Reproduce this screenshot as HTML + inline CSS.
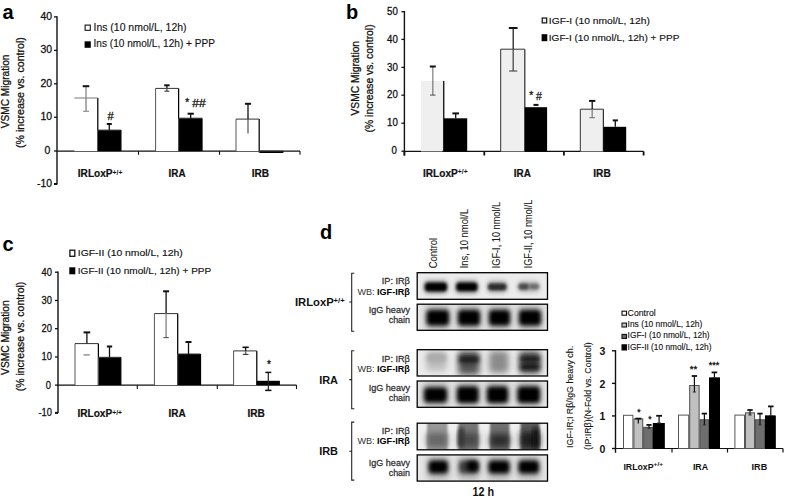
<!DOCTYPE html>
<html><head><meta charset="utf-8"><title>Figure</title>
<style>
html,body{margin:0;padding:0;background:#fff;}
body{width:785px;height:500px;position:relative;overflow:hidden;font-family:"Liberation Sans", sans-serif;}
svg text{font-family:"Liberation Sans", sans-serif;}
</style></head><body>
<svg width="785" height="500" viewBox="0 0 785 500" style="position:absolute;left:0;top:0">
<defs>
<filter id="b1" x="-30%" y="-80%" width="160%" height="260%"><feGaussianBlur stdDeviation="1.6"/></filter>
<filter id="b2" x="-30%" y="-80%" width="160%" height="260%"><feGaussianBlur stdDeviation="2.0"/></filter>
<filter id="b3" x="-30%" y="-30%" width="160%" height="160%"><feGaussianBlur stdDeviation="1.2"/></filter>
<filter id="b4" x="-50%" y="-80%" width="200%" height="260%"><feGaussianBlur stdDeviation="3"/></filter>
</defs>
<text x="2.5" y="18.7" font-size="20" font-weight="bold" fill="#000" text-anchor="start" >a</text>
<text x="346" y="18.6" font-size="20" font-weight="bold" fill="#000" text-anchor="start" >b</text>
<text x="2.6" y="251" font-size="20" font-weight="bold" fill="#000" text-anchor="start" >c</text>
<text x="320.1" y="239" font-size="20" font-weight="bold" fill="#000" text-anchor="start" >d</text>
<line x1="57.0" y1="16.2" x2="57.0" y2="184.6" stroke="#111" stroke-width="1.4"/>
<line x1="54.0" y1="16.9" x2="57.0" y2="16.9" stroke="#111" stroke-width="1.3"/>
<text x="52.0" y="19.6" font-size="10.2" font-weight="normal" fill="#111" text-anchor="end" stroke="#111" stroke-width="0.28" textLength="11.6" lengthAdjust="spacingAndGlyphs" >40</text>
<line x1="54.0" y1="50.4" x2="57.0" y2="50.4" stroke="#111" stroke-width="1.3"/>
<text x="52.0" y="53.1" font-size="10.2" font-weight="normal" fill="#111" text-anchor="end" stroke="#111" stroke-width="0.28" textLength="11.6" lengthAdjust="spacingAndGlyphs" >30</text>
<line x1="54.0" y1="83.8" x2="57.0" y2="83.8" stroke="#111" stroke-width="1.3"/>
<text x="52.0" y="86.5" font-size="10.2" font-weight="normal" fill="#111" text-anchor="end" stroke="#111" stroke-width="0.28" textLength="11.6" lengthAdjust="spacingAndGlyphs" >20</text>
<line x1="54.0" y1="117.3" x2="57.0" y2="117.3" stroke="#111" stroke-width="1.3"/>
<text x="52.0" y="120.0" font-size="10.2" font-weight="normal" fill="#111" text-anchor="end" stroke="#111" stroke-width="0.28" textLength="11.6" lengthAdjust="spacingAndGlyphs" >10</text>
<line x1="54.0" y1="151.0" x2="57.0" y2="151.0" stroke="#111" stroke-width="1.3"/>
<text x="50.4" y="153.7" font-size="10.2" font-weight="normal" fill="#111" text-anchor="end" stroke="#111" stroke-width="0.28" textLength="5.8" lengthAdjust="spacingAndGlyphs" >0</text>
<line x1="54.0" y1="184.0" x2="57.0" y2="184.0" stroke="#111" stroke-width="2"/>
<text x="52.0" y="186.7" font-size="10.2" font-weight="normal" fill="#111" text-anchor="end" stroke="#111" stroke-width="0.28" textLength="15.0" lengthAdjust="spacingAndGlyphs" >-10</text>
<line x1="57.0" y1="151.1" x2="300" y2="151.1" stroke="#111" stroke-width="1.1"/>
<line x1="138.5" y1="151.1" x2="138.5" y2="154.8" stroke="#111" stroke-width="1.1"/>
<line x1="219.5" y1="151.1" x2="219.5" y2="154.8" stroke="#111" stroke-width="1.1"/>
<line x1="300" y1="151.1" x2="300" y2="154.8" stroke="#111" stroke-width="1.1"/>
<text x="9" y="91.4" font-size="10.5" font-weight="normal" fill="#111" text-anchor="middle" transform="rotate(-90 9 91.4)" stroke="#111" stroke-width="0.28" textLength="73.8" lengthAdjust="spacingAndGlyphs">VSMC Migration</text>
<text x="24.1" y="92.6" font-size="10.5" font-weight="normal" fill="#111" text-anchor="middle" transform="rotate(-90 24.1 92.6)" stroke="#111" stroke-width="0.28" textLength="110.8" lengthAdjust="spacingAndGlyphs">(% increase vs. control)</text>
<rect x="74.4" y="98" width="23.4" height="53.1" fill="#fff"/>
<line x1="97.8" y1="98" x2="97.8" y2="151.1" stroke="#000" stroke-width="1.25"/>
<line x1="74.4" y1="98" x2="97.8" y2="98" stroke="#777" stroke-width="1"/>
<rect x="97.5" y="130.1" width="23.4" height="21.0" fill="#000"/>
<line x1="97.5" y1="130.1" x2="97.5" y2="151.1" stroke="#555" stroke-width="1"/>
<line x1="120.9" y1="130.1" x2="120.9" y2="151.1" stroke="#000" stroke-width="1.25"/>
<line x1="97.5" y1="130.1" x2="120.9" y2="130.1" stroke="#333" stroke-width="1"/>
<line x1="86" y1="86.2" x2="86" y2="98" stroke="#888" stroke-width="1.3"/>
<line x1="86" y1="98" x2="86" y2="111.3" stroke="#888" stroke-width="1.4"/>
<line x1="83.0" y1="111.3" x2="89.0" y2="111.3" stroke="#888" stroke-width="1.1"/>
<line x1="82.7" y1="86.2" x2="89.3" y2="86.2" stroke="#111" stroke-width="2"/>
<line x1="106.8" y1="124" x2="111.8" y2="124" stroke="#111" stroke-width="2"/>
<line x1="109.3" y1="124" x2="109.3" y2="130.1" stroke="#111" stroke-width="1.3"/>
<rect x="155.6" y="88.4" width="23.0" height="62.7" fill="#fff"/>
<line x1="155.6" y1="88.4" x2="155.6" y2="151.1" stroke="#555" stroke-width="1"/>
<line x1="178.6" y1="88.4" x2="178.6" y2="151.1" stroke="#000" stroke-width="1.25"/>
<line x1="155.6" y1="88.4" x2="178.6" y2="88.4" stroke="#333" stroke-width="1"/>
<rect x="178.6" y="118.2" width="23.4" height="32.9" fill="#000"/>
<line x1="178.6" y1="118.2" x2="178.6" y2="151.1" stroke="#555" stroke-width="1"/>
<line x1="202" y1="118.2" x2="202" y2="151.1" stroke="#000" stroke-width="1.25"/>
<line x1="178.6" y1="118.2" x2="202" y2="118.2" stroke="#333" stroke-width="1"/>
<line x1="166.9" y1="85.3" x2="166.9" y2="88.4" stroke="#111" stroke-width="1.3"/>
<line x1="166.9" y1="88.4" x2="166.9" y2="91.2" stroke="#666" stroke-width="1.4"/>
<line x1="164.5" y1="91.2" x2="169.3" y2="91.2" stroke="#333" stroke-width="1.1"/>
<line x1="164.2" y1="85.3" x2="169.6" y2="85.3" stroke="#111" stroke-width="2"/>
<line x1="187.55" y1="113.7" x2="193.85" y2="113.7" stroke="#111" stroke-width="2"/>
<line x1="190.7" y1="113.7" x2="190.7" y2="118.2" stroke="#111" stroke-width="1.3"/>
<rect x="236" y="119.1" width="23.2" height="32.0" fill="#fff"/>
<line x1="236" y1="119.1" x2="236" y2="151.1" stroke="#555" stroke-width="1"/>
<line x1="259.2" y1="119.1" x2="259.2" y2="151.1" stroke="#000" stroke-width="1.25"/>
<line x1="236" y1="119.1" x2="259.2" y2="119.1" stroke="#333" stroke-width="1"/>
<line x1="248.0" y1="103.8" x2="248.0" y2="119.1" stroke="#111" stroke-width="1.3"/>
<line x1="248.0" y1="119.1" x2="248.0" y2="133.6" stroke="#444" stroke-width="1.1"/>
<line x1="244.9" y1="103.8" x2="251.1" y2="103.8" stroke="#111" stroke-width="2"/>
<rect x="259.2" y="151.1" width="23.6" height="1.9" fill="#000"/>
<line x1="259.2" y1="151.1" x2="259.2" y2="153" stroke="#555" stroke-width="1"/>
<line x1="282.8" y1="151.1" x2="282.8" y2="153" stroke="#000" stroke-width="1.25"/>
<line x1="259.2" y1="151.1" x2="282.8" y2="151.1" stroke="#333" stroke-width="1"/>
<text x="107.6" y="119.8" font-size="11" font-weight="normal" fill="#111" text-anchor="start" stroke="#111" stroke-width="0.28" >#</text>
<text x="185.2" y="105.5" font-size="10" font-weight="normal" fill="#111" text-anchor="start" stroke="#111" stroke-width="0.28" >*</text>
<text x="192.2" y="107" font-size="11" font-weight="normal" fill="#111" text-anchor="start" stroke="#111" stroke-width="0.28" textLength="13.4" lengthAdjust="spacingAndGlyphs" >##</text>
<text x="77.8" y="176.9" font-size="10.5" font-weight="bold" fill="#111" text-anchor="start" stroke="#111" stroke-width="0.2" textLength="34.8" lengthAdjust="spacingAndGlyphs" >IRLoxP</text>
<text x="112.6" y="174.5" font-size="6.5" font-weight="bold" fill="#111" text-anchor="start" textLength="9.8" lengthAdjust="spacingAndGlyphs" >+/+</text>
<text x="168.6" y="176.9" font-size="10.5" font-weight="bold" fill="#111" text-anchor="start" stroke="#111" stroke-width="0.2" textLength="17" lengthAdjust="spacingAndGlyphs" >IRA</text>
<text x="251.7" y="176.9" font-size="10.5" font-weight="bold" fill="#111" text-anchor="start" stroke="#111" stroke-width="0.2" textLength="17.4" lengthAdjust="spacingAndGlyphs" >IRB</text>
<rect x="85.1" y="25.1" width="5.2" height="5.2" fill="#fff" stroke="#111" stroke-width="1.1"/>
<text x="93.5" y="30.7" font-size="10.2" font-weight="normal" fill="#111" text-anchor="start" stroke="#111" stroke-width="0.12" textLength="93" lengthAdjust="spacingAndGlyphs" >Ins (10 nmol/L, 12h)</text>
<rect x="84.6" y="41.3" width="6.2" height="6.5" fill="#000"/>
<text x="93.5" y="47.4" font-size="10.2" font-weight="normal" fill="#111" text-anchor="start" stroke="#111" stroke-width="0.12" textLength="121.5" lengthAdjust="spacingAndGlyphs" >Ins (10 nmol/L, 12h) + PPP</text>
<line x1="404.4" y1="11.0" x2="404.4" y2="155.5" stroke="#111" stroke-width="1.4"/>
<line x1="401.4" y1="11.7" x2="404.4" y2="11.7" stroke="#111" stroke-width="1.3"/>
<text x="397.8" y="14.9" font-size="10.2" font-weight="normal" fill="#111" text-anchor="end" stroke="#111" stroke-width="0.28" textLength="10.8" lengthAdjust="spacingAndGlyphs" >50</text>
<line x1="401.4" y1="39.4" x2="404.4" y2="39.4" stroke="#111" stroke-width="1.3"/>
<text x="397.8" y="42.6" font-size="10.2" font-weight="normal" fill="#111" text-anchor="end" stroke="#111" stroke-width="0.28" textLength="10.8" lengthAdjust="spacingAndGlyphs" >40</text>
<line x1="401.4" y1="67.4" x2="404.4" y2="67.4" stroke="#111" stroke-width="1.3"/>
<text x="397.8" y="70.6" font-size="10.2" font-weight="normal" fill="#111" text-anchor="end" stroke="#111" stroke-width="0.28" textLength="10.8" lengthAdjust="spacingAndGlyphs" >30</text>
<line x1="401.4" y1="95.2" x2="404.4" y2="95.2" stroke="#111" stroke-width="1.3"/>
<text x="397.8" y="98.4" font-size="10.2" font-weight="normal" fill="#111" text-anchor="end" stroke="#111" stroke-width="0.28" textLength="10.8" lengthAdjust="spacingAndGlyphs" >20</text>
<line x1="401.4" y1="123.2" x2="404.4" y2="123.2" stroke="#111" stroke-width="1.3"/>
<text x="397.8" y="126.4" font-size="10.2" font-weight="normal" fill="#111" text-anchor="end" stroke="#111" stroke-width="0.28" textLength="10.8" lengthAdjust="spacingAndGlyphs" >10</text>
<line x1="401.4" y1="151.2" x2="404.4" y2="151.2" stroke="#111" stroke-width="1.3"/>
<text x="396.8" y="154.4" font-size="10.2" font-weight="normal" fill="#111" text-anchor="end" stroke="#111" stroke-width="0.28" textLength="5.4" lengthAdjust="spacingAndGlyphs" >0</text>
<line x1="404.4" y1="151.4" x2="643.6" y2="151.4" stroke="#111" stroke-width="1.1"/>
<line x1="404.4" y1="151.4" x2="404.4" y2="155.5" stroke="#111" stroke-width="1.8"/>
<line x1="484.3" y1="151.4" x2="484.3" y2="155.5" stroke="#111" stroke-width="1.8"/>
<line x1="563.9" y1="151.4" x2="563.9" y2="155.5" stroke="#111" stroke-width="1.8"/>
<line x1="643.6" y1="151.4" x2="643.6" y2="155.5" stroke="#111" stroke-width="1.8"/>
<text x="359.5" y="78.2" font-size="10.5" font-weight="normal" fill="#111" text-anchor="middle" transform="rotate(-90 359.5 78.2)" stroke="#111" stroke-width="0.28" textLength="74.5" lengthAdjust="spacingAndGlyphs">VSMC Migration</text>
<text x="373.2" y="78.4" font-size="10.5" font-weight="normal" fill="#111" text-anchor="middle" transform="rotate(-90 373.2 78.4)" stroke="#111" stroke-width="0.28" textLength="108" lengthAdjust="spacingAndGlyphs">(% increase vs. control)</text>
<rect x="421" y="80.9" width="21.5" height="70.5" fill="#efefef"/>
<line x1="443.7" y1="80.9" x2="443.7" y2="151.4" stroke="#222" stroke-width="1.5"/>
<rect x="444" y="118.3" width="23.2" height="33.1" fill="#000"/>
<line x1="432.8" y1="66.5" x2="432.8" y2="80.9" stroke="#888" stroke-width="1.3"/>
<line x1="432.8" y1="80.9" x2="432.8" y2="95.1" stroke="#888" stroke-width="1.4"/>
<line x1="430.1" y1="95.1" x2="435.5" y2="95.1" stroke="#555" stroke-width="1.1"/>
<line x1="429.8" y1="66.5" x2="435.8" y2="66.5" stroke="#111" stroke-width="2"/>
<line x1="452.4" y1="113.4" x2="459.0" y2="113.4" stroke="#111" stroke-width="2"/>
<line x1="455.7" y1="113.4" x2="455.7" y2="118.3" stroke="#111" stroke-width="1.3"/>
<rect x="500.7" y="49.2" width="24.1" height="102.2" fill="#efefef"/>
<line x1="500.7" y1="49.2" x2="500.7" y2="151.4" stroke="#333" stroke-width="1"/>
<line x1="524.8" y1="49.2" x2="524.8" y2="151.4" stroke="#333" stroke-width="1.25"/>
<line x1="500.7" y1="49.2" x2="524.8" y2="49.2" stroke="#333" stroke-width="1"/>
<rect x="524.8" y="107.2" width="22.3" height="44.2" fill="#000"/>
<line x1="513.2" y1="28" x2="513.2" y2="49.2" stroke="#222" stroke-width="1.3"/>
<line x1="513.2" y1="49.2" x2="513.2" y2="71" stroke="#555" stroke-width="1.4"/>
<line x1="509.15" y1="71" x2="517.25" y2="71" stroke="#444" stroke-width="1.1"/>
<line x1="508.85" y1="28" x2="517.55" y2="28" stroke="#111" stroke-width="2"/>
<line x1="533.5" y1="104.9" x2="538.5" y2="104.9" stroke="#111" stroke-width="2"/>
<rect x="580.3" y="109.2" width="23.1" height="42.2" fill="#efefef"/>
<line x1="580.3" y1="109.2" x2="580.3" y2="151.4" stroke="#333" stroke-width="1"/>
<line x1="603.4" y1="109.2" x2="603.4" y2="151.4" stroke="#333" stroke-width="1.25"/>
<line x1="580.3" y1="109.2" x2="603.4" y2="109.2" stroke="#333" stroke-width="1"/>
<rect x="603.4" y="126.8" width="22.8" height="24.6" fill="#000"/>
<line x1="592.2" y1="100.9" x2="592.2" y2="109.2" stroke="#111" stroke-width="1.3"/>
<line x1="592.2" y1="109.2" x2="592.2" y2="117.7" stroke="#888" stroke-width="1.4"/>
<line x1="589.35" y1="117.7" x2="595.05" y2="117.7" stroke="#777" stroke-width="1.1"/>
<line x1="589.05" y1="100.9" x2="595.35" y2="100.9" stroke="#111" stroke-width="2"/>
<line x1="612.7" y1="120.4" x2="617.9" y2="120.4" stroke="#111" stroke-width="2"/>
<line x1="615.3" y1="120.4" x2="615.3" y2="126.8" stroke="#111" stroke-width="1.3"/>
<text x="529.2" y="98.5" font-size="10" font-weight="normal" fill="#111" text-anchor="start" stroke="#111" stroke-width="0.28" >*</text>
<text x="535.9" y="99.6" font-size="10.5" font-weight="normal" fill="#111" text-anchor="start" stroke="#111" stroke-width="0.28" >#</text>
<text x="423" y="177.1" font-size="10.0" font-weight="bold" fill="#111" text-anchor="start" stroke="#111" stroke-width="0.2" textLength="34.8" lengthAdjust="spacingAndGlyphs" >IRLoxP</text>
<text x="457.8" y="174.2" font-size="6.5" font-weight="bold" fill="#111" text-anchor="start" textLength="9.8" lengthAdjust="spacingAndGlyphs" >+/+</text>
<text x="513.8" y="177.1" font-size="10.0" font-weight="bold" fill="#111" text-anchor="start" stroke="#111" stroke-width="0.2" textLength="17" lengthAdjust="spacingAndGlyphs" >IRA</text>
<text x="593.3" y="177.1" font-size="10.0" font-weight="bold" fill="#111" text-anchor="start" stroke="#111" stroke-width="0.2" textLength="17.4" lengthAdjust="spacingAndGlyphs" >IRB</text>
<rect x="542.2" y="18.0" width="4.5" height="4.9" fill="#eee" stroke="#111" stroke-width="1.2"/>
<text x="548.8" y="23.8" font-size="9.7" font-weight="normal" fill="#111" text-anchor="start" stroke="#111" stroke-width="0.15" textLength="101" lengthAdjust="spacingAndGlyphs" >IGF-I (10 nmol/L, 12h)</text>
<rect x="541.6" y="34.2" width="5.7" height="7.0" fill="#000"/>
<text x="548.8" y="41.2" font-size="9.7" font-weight="normal" fill="#111" text-anchor="start" stroke="#111" stroke-width="0.15" textLength="130.6" lengthAdjust="spacingAndGlyphs" >IGF-I (10 nmol/L, 12h) + PPP</text>
<line x1="58.0" y1="271.5" x2="58.0" y2="413.3" stroke="#111" stroke-width="1.4"/>
<line x1="55.0" y1="272.2" x2="58.0" y2="272.2" stroke="#111" stroke-width="1.3"/>
<text x="52.0" y="275.6" font-size="10.2" font-weight="normal" fill="#111" text-anchor="end" stroke="#111" stroke-width="0.28" textLength="10.4" lengthAdjust="spacingAndGlyphs" >40</text>
<line x1="55.0" y1="300.5" x2="58.0" y2="300.5" stroke="#111" stroke-width="1.3"/>
<text x="52.0" y="303.9" font-size="10.2" font-weight="normal" fill="#111" text-anchor="end" stroke="#111" stroke-width="0.28" textLength="10.4" lengthAdjust="spacingAndGlyphs" >30</text>
<line x1="55.0" y1="328.7" x2="58.0" y2="328.7" stroke="#111" stroke-width="1.3"/>
<text x="52.0" y="332.1" font-size="10.2" font-weight="normal" fill="#111" text-anchor="end" stroke="#111" stroke-width="0.28" textLength="10.4" lengthAdjust="spacingAndGlyphs" >20</text>
<line x1="55.0" y1="357.0" x2="58.0" y2="357.0" stroke="#111" stroke-width="1.3"/>
<text x="52.0" y="360.4" font-size="10.2" font-weight="normal" fill="#111" text-anchor="end" stroke="#111" stroke-width="0.28" textLength="10.4" lengthAdjust="spacingAndGlyphs" >10</text>
<line x1="55.0" y1="385.1" x2="58.0" y2="385.1" stroke="#111" stroke-width="1.3"/>
<text x="51.0" y="388.5" font-size="10.2" font-weight="normal" fill="#111" text-anchor="end" stroke="#111" stroke-width="0.28" textLength="5.2" lengthAdjust="spacingAndGlyphs" >0</text>
<line x1="55.0" y1="412.9" x2="58.0" y2="412.9" stroke="#111" stroke-width="2"/>
<text x="52.0" y="416.3" font-size="10.2" font-weight="normal" fill="#111" text-anchor="end" stroke="#111" stroke-width="0.28" textLength="13.5" lengthAdjust="spacingAndGlyphs" >-10</text>
<line x1="58.0" y1="385.1" x2="296.5" y2="385.1" stroke="#111" stroke-width="1.1"/>
<line x1="137.3" y1="385.1" x2="137.3" y2="389" stroke="#111" stroke-width="1.1"/>
<line x1="217.3" y1="385.1" x2="217.3" y2="389" stroke="#111" stroke-width="1.1"/>
<line x1="296.5" y1="385.1" x2="296.5" y2="389" stroke="#111" stroke-width="1.1"/>
<text x="9.3" y="337.6" font-size="10.5" font-weight="normal" fill="#111" text-anchor="middle" transform="rotate(-90 9.3 337.6)" stroke="#111" stroke-width="0.28" textLength="74.7" lengthAdjust="spacingAndGlyphs">VSMC Migration</text>
<text x="24.3" y="336.5" font-size="10.5" font-weight="normal" fill="#111" text-anchor="middle" transform="rotate(-90 24.3 336.5)" stroke="#111" stroke-width="0.28" textLength="109.6" lengthAdjust="spacingAndGlyphs">(% increase vs. control)</text>
<rect x="75" y="343.6" width="23.4" height="41.5" fill="#fff"/>
<line x1="75" y1="343.6" x2="75" y2="385.1" stroke="#555" stroke-width="1"/>
<line x1="98.4" y1="343.6" x2="98.4" y2="385.1" stroke="#000" stroke-width="1.25"/>
<line x1="75" y1="343.6" x2="98.4" y2="343.6" stroke="#333" stroke-width="1"/>
<rect x="98.4" y="357.3" width="22.4" height="27.8" fill="#000"/>
<line x1="98.4" y1="357.3" x2="98.4" y2="385.1" stroke="#555" stroke-width="1"/>
<line x1="120.8" y1="357.3" x2="120.8" y2="385.1" stroke="#000" stroke-width="1.25"/>
<line x1="98.4" y1="357.3" x2="120.8" y2="357.3" stroke="#333" stroke-width="1"/>
<line x1="83.55" y1="332.4" x2="90.25" y2="332.4" stroke="#111" stroke-width="2"/>
<line x1="86.9" y1="332.4" x2="86.9" y2="343.6" stroke="#111" stroke-width="1.3"/>
<line x1="83.5" y1="354.9" x2="89.8" y2="354.9" stroke="#777" stroke-width="1.2"/>
<line x1="106.85" y1="346.5" x2="112.15" y2="346.5" stroke="#111" stroke-width="2"/>
<line x1="109.5" y1="346.5" x2="109.5" y2="357.3" stroke="#111" stroke-width="1.3"/>
<rect x="154.4" y="313.6" width="23.3" height="71.5" fill="#fff"/>
<line x1="154.4" y1="313.6" x2="154.4" y2="385.1" stroke="#555" stroke-width="1"/>
<line x1="177.7" y1="313.6" x2="177.7" y2="385.1" stroke="#000" stroke-width="1.25"/>
<line x1="154.4" y1="313.6" x2="177.7" y2="313.6" stroke="#333" stroke-width="1"/>
<rect x="177.7" y="354" width="22.8" height="31.1" fill="#000"/>
<line x1="177.7" y1="354" x2="177.7" y2="385.1" stroke="#555" stroke-width="1"/>
<line x1="200.5" y1="354" x2="200.5" y2="385.1" stroke="#000" stroke-width="1.25"/>
<line x1="177.7" y1="354" x2="200.5" y2="354" stroke="#333" stroke-width="1"/>
<line x1="166.1" y1="291.3" x2="166.1" y2="313.6" stroke="#111" stroke-width="1.3"/>
<line x1="166.1" y1="313.6" x2="166.1" y2="337.6" stroke="#999" stroke-width="1.6"/>
<line x1="163.4" y1="337.6" x2="168.8" y2="337.6" stroke="#555" stroke-width="1.1"/>
<line x1="163.1" y1="291.3" x2="169.1" y2="291.3" stroke="#111" stroke-width="2"/>
<line x1="185.5" y1="342" x2="191.5" y2="342" stroke="#111" stroke-width="2"/>
<line x1="188.5" y1="342" x2="188.5" y2="354" stroke="#111" stroke-width="1.3"/>
<rect x="233.6" y="350.9" width="23.2" height="34.2" fill="#fff"/>
<line x1="233.6" y1="350.9" x2="233.6" y2="385.1" stroke="#555" stroke-width="1"/>
<line x1="256.8" y1="350.9" x2="256.8" y2="385.1" stroke="#000" stroke-width="1.25"/>
<line x1="233.6" y1="350.9" x2="256.8" y2="350.9" stroke="#333" stroke-width="1"/>
<line x1="245.6" y1="347.3" x2="245.6" y2="350.9" stroke="#111" stroke-width="1.3"/>
<line x1="245.6" y1="350.9" x2="245.6" y2="354.4" stroke="#666" stroke-width="1.4"/>
<line x1="242.75" y1="354.4" x2="248.45" y2="354.4" stroke="#333" stroke-width="1.1"/>
<line x1="242.45" y1="347.3" x2="248.75" y2="347.3" stroke="#111" stroke-width="1.6"/>
<rect x="256.8" y="380.8" width="23.1" height="4.3" fill="#000"/>
<line x1="268.3" y1="372.4" x2="268.3" y2="390.4" stroke="#222" stroke-width="1.2"/>
<line x1="265.3" y1="390.4" x2="271.3" y2="390.4" stroke="#222" stroke-width="1"/>
<line x1="265.3" y1="372.4" x2="271.3" y2="372.4" stroke="#111" stroke-width="1.5"/>
<line x1="265.3" y1="390.4" x2="271.3" y2="390.4" stroke="#111" stroke-width="1.5"/>
<text x="267.1" y="367.6" font-size="10" font-weight="normal" fill="#111" text-anchor="start" stroke="#111" stroke-width="0.28" >*</text>
<text x="77.4" y="417" font-size="10.5" font-weight="bold" fill="#111" text-anchor="start" stroke="#111" stroke-width="0.2" textLength="34.8" lengthAdjust="spacingAndGlyphs" >IRLoxP</text>
<text x="112.2" y="414.6" font-size="6.5" font-weight="bold" fill="#111" text-anchor="start" textLength="9.8" lengthAdjust="spacingAndGlyphs" >+/+</text>
<text x="168.6" y="417" font-size="10.5" font-weight="bold" fill="#111" text-anchor="start" stroke="#111" stroke-width="0.2" textLength="17.2" lengthAdjust="spacingAndGlyphs" >IRA</text>
<text x="247.5" y="417" font-size="10.5" font-weight="bold" fill="#111" text-anchor="start" stroke="#111" stroke-width="0.2" textLength="17.4" lengthAdjust="spacingAndGlyphs" >IRB</text>
<rect x="69.9" y="250.2" width="4.9" height="6.1" fill="#fff" stroke="#111" stroke-width="1.3"/>
<text x="77.8" y="255.9" font-size="9.6" font-weight="normal" fill="#111" text-anchor="start" stroke="#111" stroke-width="0.15" textLength="105" lengthAdjust="spacingAndGlyphs" >IGF-II (10 nmol/L, 12h)</text>
<rect x="69.3" y="267.3" width="6.0" height="7.0" fill="#000"/>
<text x="77.8" y="274.0" font-size="9.6" font-weight="normal" fill="#111" text-anchor="start" stroke="#111" stroke-width="0.15" textLength="133.5" lengthAdjust="spacingAndGlyphs" >IGF-II (10 nmol/L, 12h) + PPP</text>
<text x="437.0" y="268.3" font-size="10.2" font-weight="normal" fill="#1a1a1a" text-anchor="start" transform="rotate(-90 437.0 268.3)" stroke="#1a1a1a" stroke-width="0.08" textLength="30.5" lengthAdjust="spacingAndGlyphs">Control</text>
<text x="468.3" y="268.3" font-size="10.2" font-weight="normal" fill="#1a1a1a" text-anchor="start" transform="rotate(-90 468.3 268.3)" stroke="#1a1a1a" stroke-width="0.08" textLength="59.2" lengthAdjust="spacingAndGlyphs">Ins, 10 nmol/L</text>
<text x="500.3" y="268.3" font-size="10.2" font-weight="normal" fill="#1a1a1a" text-anchor="start" transform="rotate(-90 500.3 268.3)" stroke="#1a1a1a" stroke-width="0.08" textLength="66.5" lengthAdjust="spacingAndGlyphs">IGF-I, 10 nmol/L</text>
<text x="532.5" y="268.3" font-size="10.2" font-weight="normal" fill="#1a1a1a" text-anchor="start" transform="rotate(-90 532.5 268.3)" stroke="#1a1a1a" stroke-width="0.08" textLength="68.7" lengthAdjust="spacingAndGlyphs">IGF-II, 10 nmol/L</text>
<rect x="417.2" y="272.7" width="130.3" height="26.6" fill="#ececec"/>
<clipPath id="cp1"><rect x="417.6" y="273.1" width="129.5" height="25.8"/></clipPath><g clip-path="url(#cp1)">
<rect x="423.5" y="280" width="24.5" height="14" rx="5" fill="#666" opacity="0.55" filter="url(#b2)"/>
<rect x="424.8" y="282.4" width="22.2" height="9.0" rx="3.5" fill="#000" opacity="1" filter="url(#b1)"/>
<rect x="455" y="280" width="23.5" height="14" rx="5" fill="#666" opacity="0.55" filter="url(#b2)"/>
<rect x="456.2" y="282.4" width="21.3" height="8.8" rx="3.5" fill="#000" opacity="1" filter="url(#b1)"/>
<rect x="487" y="280" width="20.5" height="13.5" rx="5" fill="#888" opacity="0.5" filter="url(#b2)"/>
<rect x="487.8" y="283.2" width="18.9" height="7.2" rx="3.5" fill="#2a2a2a" opacity="1" filter="url(#b1)"/>
<rect x="517.5" y="280.5" width="22.5" height="12.5" rx="5" fill="#999" opacity="0.5" filter="url(#b2)"/>
<rect x="518.3" y="283.2" width="11.2" height="6.8" rx="3.5" fill="#4a4a4a" opacity="1" filter="url(#b1)"/>
<rect x="528.5" y="283.6" width="10.7" height="6.0" rx="3.5" fill="#6a6a6a" opacity="1" filter="url(#b1)"/>
</g>
<rect x="417.2" y="272.7" width="130.3" height="26.6" fill="none" stroke="#000" stroke-width="1.3"/>
<rect x="417.2" y="304.2" width="130.3" height="26.1" fill="#e6e6e6"/>
<clipPath id="cp2"><rect x="417.6" y="304.6" width="129.5" height="25.3"/></clipPath><g clip-path="url(#cp2)">
<rect x="425" y="305" width="25.5" height="25" rx="5" fill="#888" opacity="0.55" filter="url(#b4)"/>
<rect x="426.5" y="310" width="22.5" height="15.5" rx="4" fill="#000" opacity="1" filter="url(#b2)"/>
<rect x="456.5" y="305" width="25.0" height="25" rx="5" fill="#888" opacity="0.55" filter="url(#b4)"/>
<rect x="458.0" y="310" width="22.0" height="15.5" rx="4" fill="#000" opacity="1" filter="url(#b2)"/>
<rect x="487.5" y="305" width="24.0" height="25" rx="5" fill="#888" opacity="0.55" filter="url(#b4)"/>
<rect x="489.0" y="310" width="21.0" height="15.5" rx="4" fill="#000" opacity="1" filter="url(#b2)"/>
<rect x="517.5" y="305" width="25.0" height="25" rx="5" fill="#888" opacity="0.55" filter="url(#b4)"/>
<rect x="519.0" y="310" width="22.0" height="15.5" rx="4" fill="#000" opacity="1" filter="url(#b2)"/>
</g>
<rect x="417.2" y="304.2" width="130.3" height="26.1" fill="none" stroke="#000" stroke-width="1.3"/>
<rect x="417.2" y="349.7" width="130.3" height="26.3" fill="#ececec"/>
<clipPath id="cp3"><rect x="417.6" y="350.1" width="129.5" height="25.5"/></clipPath><g clip-path="url(#cp3)">
<rect x="426" y="352" width="21" height="19" rx="4" fill="#bdbdbd" opacity="1" filter="url(#b4)"/>
<rect x="427" y="353" width="19" height="9" rx="4" fill="#aaa" opacity="1" filter="url(#b2)"/>
<rect x="458" y="351" width="21.5" height="24" rx="4" fill="#555" opacity="1" filter="url(#b4)"/>
<rect x="459" y="356" width="20" height="7" rx="3" fill="#1a1a1a" opacity="1" filter="url(#b2)"/>
<rect x="489" y="351" width="19.5" height="22" rx="4" fill="#8a8a8a" opacity="1" filter="url(#b4)"/>
<rect x="519" y="351" width="21.5" height="23" rx="4" fill="#555" opacity="1" filter="url(#b4)"/>
<rect x="520" y="356" width="20" height="6" rx="3" fill="#1a1a1a" opacity="1" filter="url(#b2)"/>
<rect x="520" y="364" width="20" height="5.5" rx="3" fill="#111" opacity="1" filter="url(#b2)"/>
</g>
<rect x="417.2" y="349.7" width="130.3" height="26.3" fill="none" stroke="#000" stroke-width="1.3"/>
<rect x="417.2" y="381.0" width="130.3" height="26.3" fill="#e6e6e6"/>
<clipPath id="cp4"><rect x="417.6" y="381.4" width="129.5" height="25.5"/></clipPath><g clip-path="url(#cp4)">
<rect x="422.5" y="382" width="26.0" height="25" rx="5" fill="#888" opacity="0.55" filter="url(#b4)"/>
<rect x="424.0" y="387.5" width="23.0" height="15.0" rx="4" fill="#000" opacity="1" filter="url(#b2)"/>
<rect x="455.5" y="382" width="24.5" height="25" rx="5" fill="#888" opacity="0.55" filter="url(#b4)"/>
<rect x="457.0" y="386.5" width="21.5" height="16.5" rx="4" fill="#000" opacity="1" filter="url(#b2)"/>
<rect x="485.5" y="382" width="24.0" height="25" rx="5" fill="#888" opacity="0.55" filter="url(#b4)"/>
<rect x="487.0" y="386.5" width="21.0" height="16.5" rx="4" fill="#000" opacity="1" filter="url(#b2)"/>
<rect x="516" y="382" width="25.5" height="25" rx="5" fill="#888" opacity="0.55" filter="url(#b4)"/>
<rect x="517.5" y="386.5" width="22.5" height="16.5" rx="4" fill="#000" opacity="1" filter="url(#b2)"/>
</g>
<rect x="417.2" y="381.0" width="130.3" height="26.3" fill="none" stroke="#000" stroke-width="1.3"/>
<rect x="417.2" y="423.2" width="130.3" height="26.6" fill="#f0f0f0"/>
<clipPath id="cp5"><rect x="417.6" y="423.6" width="129.5" height="25.8"/></clipPath><g clip-path="url(#cp5)">
<rect x="427" y="418" width="20.5" height="37" rx="1" fill="#999" opacity="1" filter="url(#b3)"/>
<rect x="427" y="433" width="20.5" height="14" rx="1" fill="#666" opacity="1" filter="url(#b4)"/>
<rect x="458.5" y="418" width="20.0" height="37" rx="1" fill="#777" opacity="1" filter="url(#b3)"/>
<rect x="458.5" y="433" width="20.0" height="14" rx="1" fill="#4a4a4a" opacity="1" filter="url(#b4)"/>
<rect x="458.5" y="428" width="5.5" height="19" rx="1" fill="#333" opacity="1" filter="url(#b2)"/>
<rect x="490" y="418" width="19.5" height="37" rx="1" fill="#707070" opacity="1" filter="url(#b3)"/>
<rect x="490" y="434" width="19.5" height="13" rx="1" fill="#2a2a2a" opacity="1" filter="url(#b4)"/>
<rect x="520.5" y="418" width="19.0" height="37" rx="1" fill="#5a5a5a" opacity="1" filter="url(#b3)"/>
<rect x="520.5" y="432" width="19.0" height="16" rx="1" fill="#1a1a1a" opacity="1" filter="url(#b4)"/>
<rect x="533" y="428" width="5.5" height="20" rx="1" fill="#111" opacity="1" filter="url(#b2)"/>
</g>
<rect x="417.2" y="423.2" width="130.3" height="26.6" fill="none" stroke="#000" stroke-width="1.3"/>
<rect x="417.2" y="454.9" width="130.3" height="26.2" fill="#e6e6e6"/>
<clipPath id="cp6"><rect x="417.6" y="455.3" width="129.5" height="25.4"/></clipPath><g clip-path="url(#cp6)">
<rect x="427" y="456" width="22.5" height="24" rx="5" fill="#888" opacity="0.55" filter="url(#b4)"/>
<rect x="428.5" y="460.5" width="19.5" height="13.0" rx="4" fill="#000" opacity="1" filter="url(#b2)"/>
<rect x="457.5" y="456" width="22.5" height="24" rx="5" fill="#888" opacity="0.55" filter="url(#b4)"/>
<rect x="459.0" y="460.5" width="19.5" height="13.0" rx="4" fill="#3a3a3a" opacity="1" filter="url(#b2)"/>
<rect x="487" y="456" width="24" height="24" rx="5" fill="#888" opacity="0.55" filter="url(#b4)"/>
<rect x="488.5" y="460.5" width="21.0" height="13.0" rx="4" fill="#000" opacity="1" filter="url(#b2)"/>
<rect x="517" y="456" width="23.5" height="24" rx="5" fill="#888" opacity="0.55" filter="url(#b4)"/>
<rect x="518.5" y="460.5" width="20.5" height="13.0" rx="4" fill="#000" opacity="1" filter="url(#b2)"/>
<rect x="467" y="461" width="11" height="10" rx="3" fill="#000" opacity="1" filter="url(#b2)"/>
</g>
<rect x="417.2" y="454.9" width="130.3" height="26.2" fill="none" stroke="#000" stroke-width="1.3"/>
<text x="409.8" y="283.7" font-size="9" font-weight="normal" fill="#333" text-anchor="end" stroke="#333" stroke-width="0.28" textLength="28" lengthAdjust="spacingAndGlyphs" >IP: IR&#946;</text>
<text x="409.8" y="294.6" font-size="9" fill="#333" text-anchor="end" textLength="52.4" lengthAdjust="spacingAndGlyphs">WB: <tspan font-weight="bold" fill="#000">IGF-IR&#946;</tspan></text>
<text x="410" y="312.8" font-size="9" font-weight="normal" fill="#333" text-anchor="end" stroke="#333" stroke-width="0.28" textLength="41.3" lengthAdjust="spacingAndGlyphs" >IgG heavy</text>
<text x="410" y="323.3" font-size="9" font-weight="normal" fill="#333" text-anchor="end" stroke="#333" stroke-width="0.28" textLength="21.3" lengthAdjust="spacingAndGlyphs" >chain</text>
<text x="409.8" y="361.5" font-size="9" font-weight="normal" fill="#333" text-anchor="end" stroke="#333" stroke-width="0.28" textLength="28" lengthAdjust="spacingAndGlyphs" >IP: IR&#946;</text>
<text x="409.8" y="372.3" font-size="9" fill="#333" text-anchor="end" textLength="52.4" lengthAdjust="spacingAndGlyphs">WB: <tspan font-weight="bold" fill="#000">IGF-IR&#946;</tspan></text>
<text x="410" y="390.8" font-size="9" font-weight="normal" fill="#333" text-anchor="end" stroke="#333" stroke-width="0.28" textLength="41.3" lengthAdjust="spacingAndGlyphs" >IgG heavy</text>
<text x="410" y="401" font-size="9" font-weight="normal" fill="#333" text-anchor="end" stroke="#333" stroke-width="0.28" textLength="21.3" lengthAdjust="spacingAndGlyphs" >chain</text>
<text x="409.8" y="433.7" font-size="9" font-weight="normal" fill="#333" text-anchor="end" stroke="#333" stroke-width="0.28" textLength="28" lengthAdjust="spacingAndGlyphs" >IP: IR&#946;</text>
<text x="409.8" y="444.4" font-size="9" fill="#333" text-anchor="end" textLength="52.4" lengthAdjust="spacingAndGlyphs">WB: <tspan font-weight="bold" fill="#000">IGF-IR&#946;</tspan></text>
<text x="410" y="465.8" font-size="9" font-weight="normal" fill="#333" text-anchor="end" stroke="#333" stroke-width="0.28" textLength="41.3" lengthAdjust="spacingAndGlyphs" >IgG heavy</text>
<text x="410" y="476" font-size="9" font-weight="normal" fill="#333" text-anchor="end" stroke="#333" stroke-width="0.28" textLength="21.3" lengthAdjust="spacingAndGlyphs" >chain</text>
<path d="M354.3 273.3 H351.7 V331.3 H354.3 M351.7 302 H349.3" fill="none" stroke="#222" stroke-width="1.1"/>
<path d="M354.3 350.7 H351.7 V408.7 H354.3 M351.7 379.6 H349.3" fill="none" stroke="#222" stroke-width="1.1"/>
<path d="M354.3 422.1 H351.7 V480.1 H354.3 M351.7 451.2 H349.3" fill="none" stroke="#222" stroke-width="1.1"/>
<text x="294.9" y="306" font-size="11" font-weight="bold" fill="#111" text-anchor="start" textLength="38.8" lengthAdjust="spacingAndGlyphs" >IRLoxP</text>
<text x="333.6" y="302.8" font-size="7" font-weight="bold" fill="#111" text-anchor="start" textLength="11" lengthAdjust="spacingAndGlyphs" >+/+</text>
<text x="319.2" y="383.9" font-size="11" font-weight="bold" fill="#111" text-anchor="start" textLength="18.8" lengthAdjust="spacingAndGlyphs" >IRA</text>
<text x="319.2" y="455.0" font-size="11" font-weight="bold" fill="#111" text-anchor="start" textLength="18.8" lengthAdjust="spacingAndGlyphs" >IRB</text>
<text x="472.5" y="495.8" font-size="12" font-weight="bold" fill="#111" text-anchor="start" textLength="21.6" lengthAdjust="spacingAndGlyphs" >12 h</text>
<line x1="615.5" y1="350.1" x2="615.5" y2="452.8" stroke="#111" stroke-width="1.4"/>
<line x1="612.0" y1="350.79" x2="615.5" y2="350.79" stroke="#111" stroke-width="1.4"/>
<text x="605.3" y="354.99" font-size="10.5" font-weight="bold" fill="#111" text-anchor="end" >3</text>
<line x1="612.0" y1="383.36" x2="615.5" y2="383.36" stroke="#111" stroke-width="1.4"/>
<text x="605.3" y="387.56" font-size="10.5" font-weight="bold" fill="#111" text-anchor="end" >2</text>
<line x1="612.0" y1="415.93" x2="615.5" y2="415.93" stroke="#111" stroke-width="1.4"/>
<text x="605.3" y="420.13" font-size="10.5" font-weight="bold" fill="#111" text-anchor="end" >1</text>
<line x1="612.0" y1="448.5" x2="615.5" y2="448.5" stroke="#111" stroke-width="1.4"/>
<text x="605.3" y="452.7" font-size="10.5" font-weight="bold" fill="#111" text-anchor="end" >0</text>
<line x1="615.5" y1="448.5" x2="783" y2="448.5" stroke="#111" stroke-width="1.1"/>
<line x1="672" y1="448.5" x2="672" y2="452.5" stroke="#111" stroke-width="1.2"/>
<line x1="727.5" y1="448.5" x2="727.5" y2="452.5" stroke="#111" stroke-width="1.2"/>
<line x1="783" y1="448.5" x2="783" y2="452.5" stroke="#111" stroke-width="1.2"/>
<text x="572.6" y="396.9" font-size="9.2" font-weight="normal" fill="#111" text-anchor="middle" transform="rotate(-90 572.6 396.9)" stroke="#111" stroke-width="0.12" textLength="102" lengthAdjust="spacingAndGlyphs">IGF-IR;I R&#946;/IgG heavy ch.</text>
<text x="591.5" y="396.1" font-size="9.2" font-weight="normal" fill="#111" text-anchor="middle" transform="rotate(-90 591.5 396.1)" stroke="#111" stroke-width="0.12" textLength="107.8" lengthAdjust="spacingAndGlyphs">(IP:IR&#946;)(N-Fold vs. Control)</text>
<rect x="623" y="414.8" width="10.4" height="33.7" fill="#fff"/>
<rect x="623.5" y="415.3" width="9.4" height="33.2" fill="none" stroke="#555" stroke-width="1"/>
<rect x="633.4" y="418.4" width="9.8" height="30.1" fill="#c0c0c0"/>
<rect x="633.9" y="418.9" width="8.8" height="29.6" fill="none" stroke="#555" stroke-width="1"/>
<rect x="643.2" y="426.9" width="9.7" height="21.6" fill="#6e6e6e"/>
<rect x="643.7" y="427.4" width="8.7" height="21.1" fill="none" stroke="#555" stroke-width="1"/>
<rect x="652.9" y="423" width="11.7" height="25.5" fill="#000"/>
<rect x="653.4" y="423.5" width="10.7" height="25.0" fill="none" stroke="#000" stroke-width="1"/>
<rect x="678" y="414.6" width="11.2" height="33.9" fill="#fff"/>
<rect x="678.5" y="415.1" width="10.2" height="33.4" fill="none" stroke="#555" stroke-width="1"/>
<rect x="689.2" y="385" width="10.4" height="63.5" fill="#c0c0c0"/>
<rect x="689.7" y="385.5" width="9.4" height="63.0" fill="none" stroke="#555" stroke-width="1"/>
<rect x="699.6" y="419.4" width="9.4" height="29.1" fill="#6e6e6e"/>
<rect x="700.1" y="419.9" width="8.4" height="28.6" fill="none" stroke="#555" stroke-width="1"/>
<rect x="709" y="377.6" width="11" height="70.9" fill="#000"/>
<rect x="709.5" y="378.1" width="10" height="70.4" fill="none" stroke="#000" stroke-width="1"/>
<rect x="734.4" y="414.6" width="10.6" height="33.9" fill="#fff"/>
<rect x="734.9" y="415.1" width="9.6" height="33.4" fill="none" stroke="#555" stroke-width="1"/>
<rect x="745" y="412.4" width="10" height="36.1" fill="#c0c0c0"/>
<rect x="745.5" y="412.9" width="9" height="35.6" fill="none" stroke="#555" stroke-width="1"/>
<rect x="755" y="419.4" width="10" height="29.1" fill="#6e6e6e"/>
<rect x="755.5" y="419.9" width="9" height="28.6" fill="none" stroke="#555" stroke-width="1"/>
<rect x="765" y="415.6" width="10.6" height="32.9" fill="#000"/>
<rect x="765.5" y="416.1" width="9.6" height="32.4" fill="none" stroke="#000" stroke-width="1"/>
<line x1="638.3" y1="418.6" x2="638.3" y2="423.6" stroke="#111" stroke-width="1.2"/>
<line x1="635.3" y1="418.6" x2="641.3" y2="418.6" stroke="#111" stroke-width="1.8"/>
<line x1="649" y1="424.9" x2="649" y2="428.5" stroke="#111" stroke-width="1.2"/>
<line x1="646.4" y1="424.9" x2="651.6" y2="424.9" stroke="#111" stroke-width="1.8"/>
<line x1="647.4" y1="428.5" x2="650.6" y2="428.5" stroke="#333" stroke-width="1"/>
<line x1="659.1" y1="415.8" x2="659.1" y2="423" stroke="#111" stroke-width="1.2"/>
<line x1="656.2" y1="415.8" x2="662.0" y2="415.8" stroke="#111" stroke-width="1.8"/>
<line x1="657.2" y1="423" x2="661.0" y2="423" stroke="#333" stroke-width="1"/>
<line x1="694.4" y1="376" x2="694.4" y2="392" stroke="#111" stroke-width="1.2"/>
<line x1="691.7" y1="376" x2="697.1" y2="376" stroke="#111" stroke-width="1.8"/>
<line x1="692.7" y1="392" x2="696.1" y2="392" stroke="#333" stroke-width="1"/>
<line x1="704.4" y1="413.6" x2="704.4" y2="425" stroke="#111" stroke-width="1.2"/>
<line x1="701.7" y1="413.6" x2="707.1" y2="413.6" stroke="#111" stroke-width="1.8"/>
<line x1="702.7" y1="425" x2="706.1" y2="425" stroke="#333" stroke-width="1"/>
<line x1="714.4" y1="372.4" x2="714.4" y2="377.6" stroke="#111" stroke-width="1.2"/>
<line x1="711.6" y1="372.4" x2="717.2" y2="372.4" stroke="#111" stroke-width="1.8"/>
<line x1="712.6" y1="377.6" x2="716.2" y2="377.6" stroke="#333" stroke-width="1"/>
<line x1="750" y1="410" x2="750" y2="415" stroke="#111" stroke-width="1.2"/>
<line x1="747.3" y1="410" x2="752.7" y2="410" stroke="#111" stroke-width="1.8"/>
<line x1="748.3" y1="415" x2="751.7" y2="415" stroke="#333" stroke-width="1"/>
<line x1="760" y1="413.6" x2="760" y2="425" stroke="#111" stroke-width="1.2"/>
<line x1="757.3" y1="413.6" x2="762.7" y2="413.6" stroke="#111" stroke-width="1.8"/>
<line x1="758.3" y1="425" x2="761.7" y2="425" stroke="#333" stroke-width="1"/>
<line x1="770.8" y1="406.4" x2="770.8" y2="415.6" stroke="#111" stroke-width="1.2"/>
<line x1="768.0" y1="406.4" x2="773.6" y2="406.4" stroke="#111" stroke-width="1.8"/>
<line x1="769.0" y1="415.6" x2="772.6" y2="415.6" stroke="#333" stroke-width="1"/>
<text x="637.2" y="414.8" font-size="8.5" font-weight="normal" fill="#111" text-anchor="start" stroke="#111" stroke-width="0.28" >*</text>
<text x="648.3" y="421.5" font-size="8.5" font-weight="normal" fill="#111" text-anchor="start" stroke="#111" stroke-width="0.28" >*</text>
<text x="689.8" y="372.2" font-size="8.5" font-weight="normal" fill="#111" text-anchor="start" stroke="#111" stroke-width="0.28" textLength="7.6" lengthAdjust="spacingAndGlyphs" >**</text>
<text x="708.8" y="367.7" font-size="8.5" font-weight="normal" fill="#111" text-anchor="start" stroke="#111" stroke-width="0.28" textLength="10.6" lengthAdjust="spacingAndGlyphs" >***</text>
<text x="623.4" y="469.5" font-size="9" font-weight="bold" fill="#111" text-anchor="start" textLength="30.2" lengthAdjust="spacingAndGlyphs" >IRLoxP</text>
<text x="653.6" y="466.4" font-size="6" font-weight="bold" fill="#111" text-anchor="start" textLength="9.6" lengthAdjust="spacingAndGlyphs" >+/+</text>
<text x="692.9" y="469.5" font-size="9" font-weight="bold" fill="#111" text-anchor="start" textLength="15.2" lengthAdjust="spacingAndGlyphs" >IRA</text>
<text x="751.6" y="469.5" font-size="9" font-weight="bold" fill="#111" text-anchor="start" textLength="15.6" lengthAdjust="spacingAndGlyphs" >IRB</text>
<rect x="622" y="311.2" width="4.5" height="4.0" fill="#fff" stroke="#111" stroke-width="1.1"/>
<text x="627.6" y="315.7" font-size="8.2" font-weight="normal" fill="#111" text-anchor="start" stroke="#111" stroke-width="0.12" textLength="28.1" lengthAdjust="spacingAndGlyphs" >Control</text>
<rect x="622" y="323.1" width="4.5" height="3.9" fill="#c8c8c8" stroke="#111" stroke-width="1.1"/>
<text x="627.6" y="326.8" font-size="8.2" font-weight="normal" fill="#111" text-anchor="start" stroke="#111" stroke-width="0.12" textLength="74.7" lengthAdjust="spacingAndGlyphs" >Ins (10 nmol/L, 12h)</text>
<rect x="622" y="334.4" width="4.5" height="4.1" fill="#6a6a6a" stroke="#111" stroke-width="1.1"/>
<text x="627.6" y="338.2" font-size="8.2" font-weight="normal" fill="#111" text-anchor="start" stroke="#111" stroke-width="0.12" textLength="82.0" lengthAdjust="spacingAndGlyphs" >IGF-I (10 nmol/L, 12h)</text>
<rect x="622" y="344.8" width="4.5" height="5.2" fill="#000" stroke="#111" stroke-width="1.1"/>
<text x="627.6" y="349.7" font-size="8.2" font-weight="normal" fill="#111" text-anchor="start" stroke="#111" stroke-width="0.12" textLength="83.9" lengthAdjust="spacingAndGlyphs" >IGF-II (10 nmol/L, 12h)</text>
</svg>
</body></html>
